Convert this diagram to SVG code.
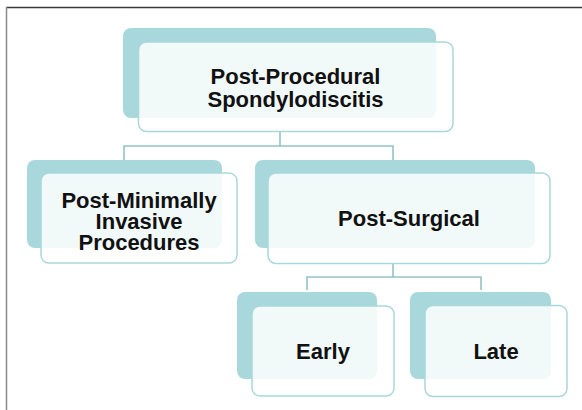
<svg xmlns="http://www.w3.org/2000/svg" width="582" height="410" viewBox="0 0 582 410">
<style>
.back{fill:#a8d8db;}
.front{fill:#ffffff;fill-opacity:0.84;stroke:#a9d7db;stroke-width:1.5;}
.lbl{font-family:"Liberation Sans",Arial,sans-serif;font-weight:bold;font-size:22px;fill:#111;text-anchor:middle;}
.conn{fill:none;stroke:#92c2c7;stroke-width:1.6;}
</style>
<rect x="0" y="0" width="582" height="410" fill="#ffffff"/>
<line x1="6" y1="7.5" x2="582" y2="7.5" stroke="#3a3a3a" stroke-width="1.5"/>
<line x1="6.5" y1="7" x2="6.5" y2="410" stroke="#8a8a8a" stroke-width="1.5"/>
<g id="connectors">
<path class="conn" d="M280 131 V146 M124 160 V146 H393 V160"/>
<path class="conn" d="M393 264 V277 M307 290 V277 H481 V290"/>
</g>
<g id="root">
<rect class="back" x="123" y="28" width="313" height="90" rx="8"/>
<rect class="front" x="138.5" y="42" width="314.5" height="89.5" rx="8"/>
<text class="lbl" x="295.5" y="84">Post-Procedural</text>
<text class="lbl" x="295.5" y="106.5">Spondylodiscitis</text>
</g>
<g id="minimally">
<rect class="back" x="27" y="160" width="195" height="88" rx="8"/>
<rect class="front" x="41" y="173" width="196" height="90" rx="8"/>
<text class="lbl" x="139" y="207.5">Post-Minimally</text>
<text class="lbl" x="139" y="228.5">Invasive</text>
<text class="lbl" x="139" y="249.5">Procedures</text>
</g>
<g id="surgical">
<rect class="back" x="255" y="160" width="280" height="88" rx="8"/>
<rect class="front" x="268" y="173" width="282" height="90.5" rx="8"/>
<text class="lbl" x="409" y="225.5">Post-Surgical</text>
</g>
<g id="early">
<rect class="back" x="237" y="292" width="140" height="87" rx="8"/>
<rect class="front" x="252" y="306" width="142" height="90" rx="8"/>
<text class="lbl" x="323" y="358.5">Early</text>
</g>
<g id="late">
<rect class="back" x="410" y="292" width="141" height="87" rx="8"/>
<rect class="front" x="425" y="305.5" width="142" height="91" rx="8"/>
<text class="lbl" x="496" y="358.5">Late</text>
</g>
</svg>
